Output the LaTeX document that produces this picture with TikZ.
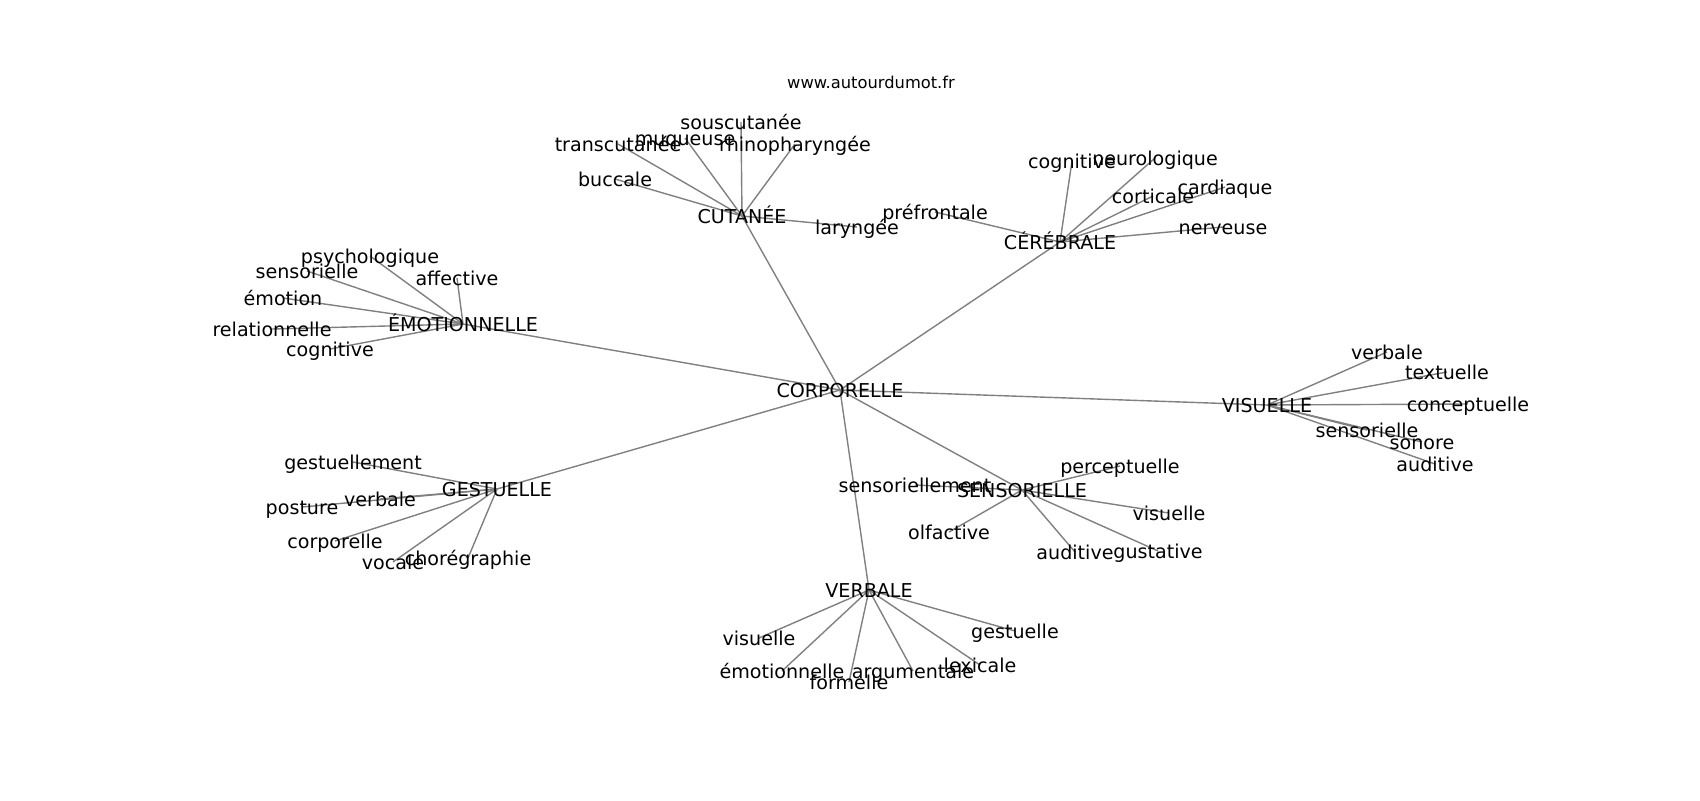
\documentclass[tikz,border=0pt]{standalone}
\usepackage{fontspec}
\setmainfont{DejaVu Sans}
\usetikzlibrary{backgrounds}
\tikzset{
  lbl/.style={inner sep=0pt, text height=9.3pt, text depth=2.3pt, font=\fontsize{9.55}{11}\selectfont, text=black},
  ttl/.style={inner sep=0pt, font=\fontsize{8.15}{10}\selectfont, text=black},
  edge/.style={draw=black!50, line width=0.7pt}
}
\begin{document}
\begin{tikzpicture}[x=0.5pt,y=-0.5pt]
\useasboundingbox (0,0) rectangle (1700,800);
\node[ttl] (title) at (871,82) {www.autourdumot.fr};
% hubs
\node[lbl] (C) at (840,390) {CORPORELLE};
\node[lbl] (cut) at (742,216) {CUTANÉE};
\node[lbl] (cer) at (1060,242) {CÉRÉBRALE};
\node[lbl] (emo) at (463,324) {ÉMOTIONNELLE};
\node[lbl] (ges) at (497,489) {GESTUELLE};
\node[lbl] (sen) at (1022,490) {SENSORIELLE};
\node[lbl] (ver) at (869,590) {VERBALE};
\node[lbl] (vis) at (1267,405) {VISUELLE};
% cutanee
\node[lbl] (cut1) at (615,179) {buccale};
\node[lbl] (cut2) at (618,144) {transcutanée};
\node[lbl] (cut3) at (685,138) {muqueuse};
\node[lbl] (cut4) at (741,122) {souscutanée};
\node[lbl] (cut5) at (795,144) {rhinopharyngée};
\node[lbl] (cut6) at (857,227) {laryngée};
% cerebrale
\node[lbl] (cer1) at (935,212) {préfrontale};
\node[lbl] (cer2) at (1072,161) {cognitive};
\node[lbl] (cer3) at (1155,158) {neurologique};
\node[lbl] (cer4) at (1153,196) {corticale};
\node[lbl] (cer5) at (1225,187) {cardiaque};
\node[lbl] (cer6) at (1223,227) {nerveuse};
% emotionnelle
\node[lbl] (emo1) at (370,256) {psychologique};
\node[lbl] (emo2) at (307,271) {sensorielle};
\node[lbl] (emo3) at (457,278) {affective};
\node[lbl] (emo4) at (283,298) {émotion};
\node[lbl] (emo5) at (272,329) {relationnelle};
\node[lbl] (emo6) at (330,349) {cognitive};
% gestuelle
\node[lbl] (ges1) at (353,462) {gestuellement};
\node[lbl] (ges2) at (380,499) {verbale};
\node[lbl] (ges3) at (302,507) {posture};
\node[lbl] (ges4) at (335,541) {corporelle};
\node[lbl] (ges5) at (393,562) {vocale};
\node[lbl] (ges6) at (468,558) {chorégraphie};
% sensorielle
\node[lbl] (sen1) at (915,485) {sensoriellement};
\node[lbl] (sen2) at (1120,466) {perceptuelle};
\node[lbl] (sen3) at (1169,513) {visuelle};
\node[lbl] (sen4) at (949,532) {olfactive};
\node[lbl] (sen5) at (1075,552) {auditive};
\node[lbl] (sen6) at (1158,551) {gustative};
% verbale
\node[lbl] (ver1) at (759,638) {visuelle};
\node[lbl] (ver2) at (782,671) {émotionnelle};
\node[lbl] (ver3) at (849,682) {formelle};
\node[lbl] (ver4) at (913,671) {argumentale};
\node[lbl] (ver5) at (980,665) {lexicale};
\node[lbl] (ver6) at (1015,631) {gestuelle};
% visuelle
\node[lbl] (vis1) at (1387,352) {verbale};
\node[lbl] (vis2) at (1447,372) {textuelle};
\node[lbl] (vis3) at (1468,404) {conceptuelle};
\node[lbl] (vis4) at (1367,430) {sensorielle};
\node[lbl] (vis5) at (1422,442) {sonore};
\node[lbl] (vis6) at (1435,464) {auditive};
\begin{scope}[on background layer]
\foreach \h in {cut,cer,emo,ges,sen,ver,vis}{
  \draw[edge] (C.center) -- (\h.center);
  \foreach \i in {1,...,6}{
    \draw[edge] (\h.center) -- (\h\i.center);
  }
}
\end{scope}
\end{tikzpicture}
\end{document}
